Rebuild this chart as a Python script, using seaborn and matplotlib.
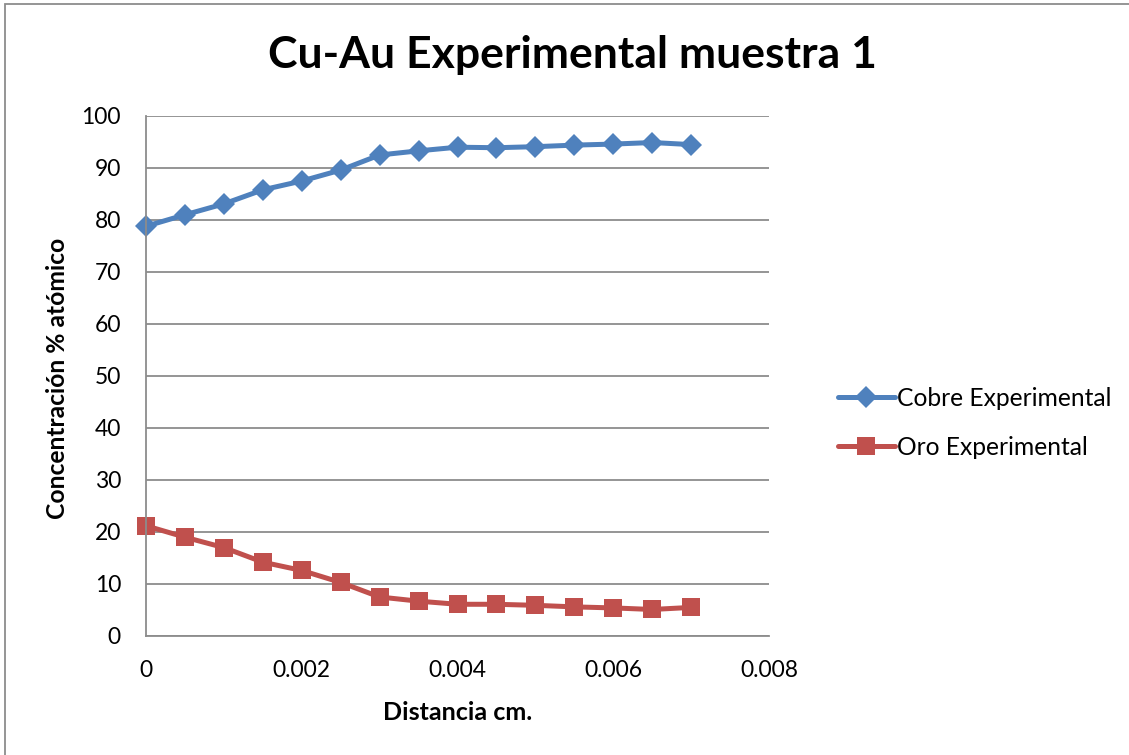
import matplotlib
matplotlib.use("Agg")
import matplotlib.pyplot as plt
import matplotlib.patches as mpatches
import seaborn as sns
import pandas as pd

# Distance from the interface (cm)
distancia = [0.0, 0.0005, 0.001, 0.0015, 0.002, 0.0025, 0.003, 0.0035,
             0.004, 0.0045, 0.005, 0.0055, 0.006, 0.0065, 0.007]
# Atomic concentration (%)
cobre = [78.8, 81.0, 83.1, 85.8, 87.5, 89.6, 92.5, 93.3,
         94.0, 93.9, 94.1, 94.4, 94.6, 94.9, 94.5]
oro = [21.2, 19.0, 17.0, 14.2, 12.6, 10.3, 7.5, 6.7,
       6.1, 6.1, 5.9, 5.6, 5.4, 5.1, 5.5]
series = ["Cobre Experimental", "Oro Experimental"]
x_ticks = [0, 0.002, 0.004, 0.006, 0.008]
x_tick_labels = ["0", "0.002", "0.004", "0.006", "0.008"]
y_ticks = list(range(0, 101, 10))

df = pd.DataFrame({
    "Distancia": distancia * 2,
    "Concentracion": cobre + oro,
    "Serie": [series[0]] * len(cobre) + [series[1]] * len(oro),
})

sns.set_theme(style="white")
plt.rcParams["font.family"] = ["Lato", "DejaVu Sans"]
plt.rcParams["text.color"] = "black"

W, H = 1129, 755
fig = plt.figure(figsize=(W / 100, H / 100), dpi=100)
ax = fig.add_axes([146 / W, 1 - 636 / H, (769 - 146) / W, (636 - 116) / H])

palette = {series[0]: "#4F81BD", series[1]: "#C0504D"}
markers = {series[0]: "D", series[1]: "s"}
msize = {series[0]: 11, series[1]: 13}
LW = 3.6
sns.lineplot(data=df, x="Distancia", y="Concentracion", hue="Serie",
             style="Serie", palette=palette, markers=markers, dashes=False,
             linewidth=LW, markeredgewidth=0, ax=ax, legend=False)
for line, s in zip(ax.lines, series):
    line.set_markersize(msize[s])

ax.set_xlim(0, 0.008)
ax.set_ylim(0, 100)
ax.set_xticks(x_ticks)
ax.set_xticklabels(x_tick_labels)
ax.set_yticks(y_ticks)
ax.tick_params(axis="x", length=0, pad=17, labelsize=16.5, colors="black")
ax.tick_params(axis="y", length=0, pad=18, labelsize=16.5, colors="black")
ax.set_xlabel("")
ax.set_ylabel("")
ax.grid(axis="y", color="#8C8C8C", linewidth=1.3)
ax.grid(axis="x", visible=False)
for side in ["top", "right"]:
    ax.spines[side].set_visible(False)
for side in ["left", "bottom"]:
    ax.spines[side].set_color("#8C8C8C")
    ax.spines[side].set_linewidth(1.3)
for line in ax.lines:
    line.set_clip_on(False)

# Legend
handles = [plt.Line2D([], [], color=palette[s], marker=markers[s], lw=LW,
                      markersize=msize[s], markeredgewidth=0) for s in series]
fig.legend(handles, series, loc="center left",
           bbox_to_anchor=(838 / W, 1 - 423 / H), frameon=False,
           fontsize=17.7, handlelength=2.3, handletextpad=0.1,
           labelspacing=1.05, borderpad=0, borderaxespad=0,
           labelcolor="black")

# Titles
fig.text(572 / W, 1 - 55 / H, "Cu-Au Experimental muestra 1",
         ha="center", va="center", fontsize=32, fontweight="bold",
         color="black")
fig.text(58 / W, 1 - 378 / H, "Concentración % atómico", rotation=90,
         ha="center", va="center", fontsize=17.7, fontweight="bold",
         color="black")
fig.text(458 / W, 1 - 712 / H, "Distancia cm.",
         ha="center", va="center", fontsize=18, fontweight="bold",
         color="black")

# Chart border
fig.patches.append(mpatches.Rectangle((5 / W, -0.1), 1.2, 1 - 4 / H + 0.1,
                                      transform=fig.transFigure,
                                      fill=False, edgecolor="#8C8C8C",
                                      linewidth=1.3))

fig.savefig("out.png", dpi=100, facecolor="white")
